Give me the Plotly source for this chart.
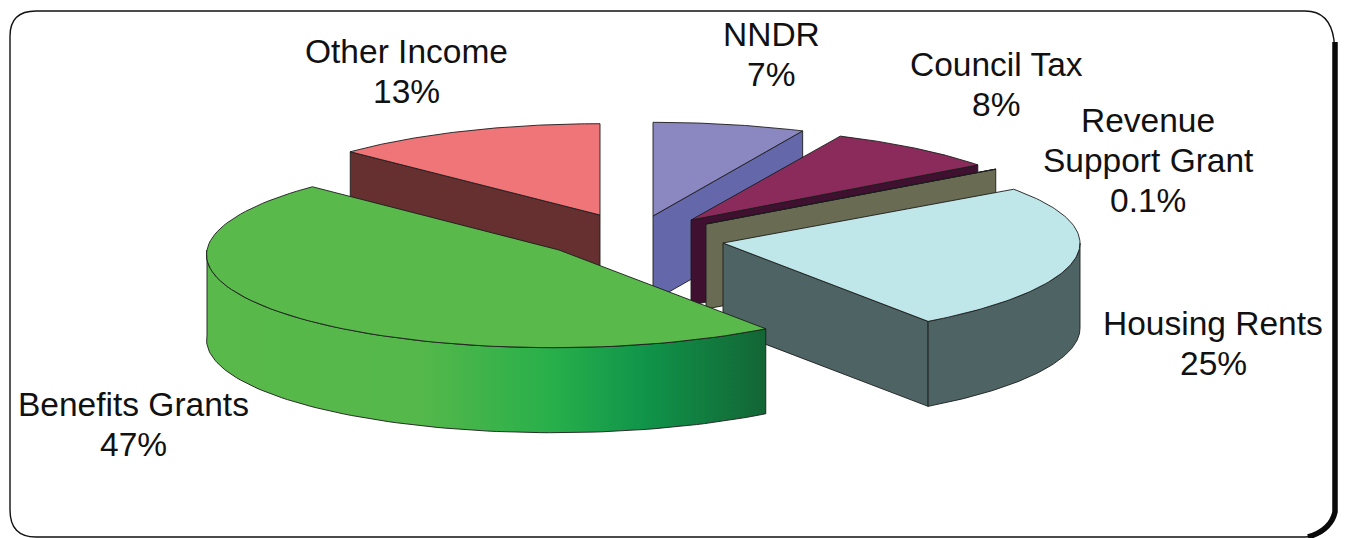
import math
import plotly.graph_objects as go

# Income shares, listed clockwise from twelve o'clock
labels = ["NNDR", "Council Tax", "Revenue<br>Support Grant", "Housing Rents", "Benefits Grants", "Other Income"]
shares = [7, 8, 0.1, 25, 47, 13]

# Per-slice drawing style
top_colors = ["#8a87c1", "#8a2b5c", "#7d7f62", "#bfe6e8", "#59b94a", "#ef7578"]
wall_colors = ["#6467a9", "#401030", "#696b52", "#4e6464", "#59b94a", "#662f30"]
hubs = [(653, 216), (691, 220), (706, 224), (723, 243), (559, 250), (600, 215)]
radii_x = [363, 362, 364, 357, 352, 351]
radii_y = [97, 95.6, 96, 94, 94.5, 94.5]
skews = [0, 0, 0, -0.12, -0.06, 0]

# Where each label sits, and the gradient along the green outer wall
label_spots = [(771, 54), (996, 84), (1148, 160), (1213, 343), (133, 424), (406, 71)]
green_wall_scale = [[0, "#59b94a"], [0.38, "#55b84a"], [0.62, "#27af4a"],
                    [0.78, "#10954a"], [1, "#136535"]]

# Back slices are painted first so the nearer ones overlap them
paint_order = [5, 0, 1, 2, 3, 4]

PERSPECTIVE = 0.034
DEPTH = 85
LINE_PITCH = 40
EDGE = dict(color="#1c1c1c", width=0.9)


def rim_point(i, theta_deg):
    """Rim position of slice i, theta measured clockwise from the top."""
    t = math.radians(theta_deg)
    scale = 1 - PERSPECTIVE * math.cos(t)
    dy = -radii_y[i] * scale * math.cos(t)
    dx = radii_x[i] * scale * math.sin(t) + skews[i] * dy
    return hubs[i][0] + dx, hubs[i][1] + dy


def arc(i, a, b, n=90):
    return [rim_point(i, a + (b - a) * k / n) for k in range(n + 1)]


def polygon(points, fill, line=EDGE, gradient=None):
    xs = [p[0] for p in points] + [points[0][0]]
    ys = [p[1] for p in points] + [points[0][1]]
    extra = {"fillgradient": gradient} if gradient else {"fillcolor": fill}
    return go.Scatter(x=xs, y=ys, mode="lines", fill="toself", line=line,
                      hoverinfo="skip", **extra)


def drop(points):
    return [(x, y + DEPTH) for x, y in points]


# Angular span of every slice
total = sum(shares)
spans = []
theta = 0.0
for share in shares:
    spans.append((theta, theta + share / total * 360))
    theta = spans[-1][1]

fig = go.Figure()
for i in paint_order:
    start, end = spans[i]
    hub = hubs[i]

    # Cut faces that turn towards the viewer
    for edge_angle, visible in ((start, math.sin(math.radians(start)) < -1e-9),
                                (end, math.sin(math.radians(end)) > 1e-9)):
        if visible:
            rim = rim_point(i, edge_angle)
            fig.add_trace(polygon([hub, rim, (rim[0], rim[1] + DEPTH), (hub[0], hub[1] + DEPTH)],
                                  wall_colors[i]))

    # Outer wall along the front half of the rim
    a, b = max(start, 90), min(end, 270)
    if a < b:
        rim = arc(i, a, b)
        gradient = None
        if labels[i] == "Benefits Grants":
            gradient = dict(type="horizontal", colorscale=green_wall_scale)
        fig.add_trace(polygon(rim + drop(rim)[::-1], wall_colors[i], gradient=gradient))

    # Top face
    fig.add_trace(polygon([hub] + arc(i, start, end), top_colors[i]))

# Labels are stacked line by line to hold an even pitch
for name, share, (x, y) in zip(labels, shares, label_spots):
    lines = name.split("<br>") + [f"{share:g}%"]
    for k, line in enumerate(lines):
        fig.add_annotation(x=x, y=y + (k - (len(lines) - 1) / 2) * LINE_PITCH, text=line,
                           showarrow=False, xanchor="center", yanchor="middle",
                           font=dict(family="Liberation Sans, Arial, sans-serif", size=33.5,
                                     color="#111111"))

# Rounded frame, with a heavy shadow down the right-hand side
fig.add_shape(type="path", xref="x", yref="y", layer="below",
              path="M 10 36 Q 10 11 36 11 L 1305 11 Q 1330 11 1334 40 L 1334 505 "
                   "Q 1334 537 1305 537 L 36 537 Q 10 537 10 510 Z",
              line=dict(color="#111111", width=1.4), fillcolor="white")
fig.add_shape(type="path", xref="x", yref="y",
              path="M 1335 42 L 1335 512 Q 1331 530 1308 537",
              line=dict(color="#0a0a0a", width=5.5))

fig.update_layout(
    width=1345, height=538, showlegend=False, hovermode=False,
    margin=dict(l=0, r=0, t=0, b=0), paper_bgcolor="white", plot_bgcolor="white",
    xaxis=dict(range=[0, 1345], visible=False, fixedrange=True),
    yaxis=dict(range=[538, 0], visible=False, fixedrange=True),
)
fig.write_html("out.html", config={"displayModeBar": False})
